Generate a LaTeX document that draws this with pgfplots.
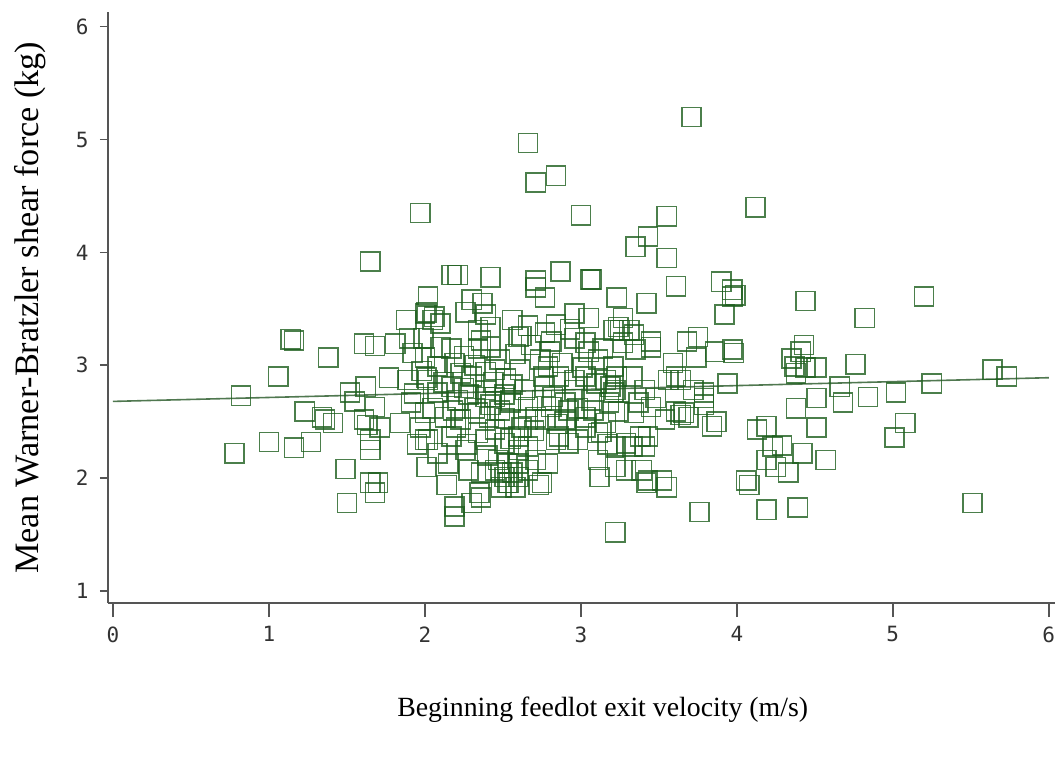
\documentclass[border=0pt]{standalone}
\usepackage{fontspec}
\setmainfont{Liberation Serif}
\newfontfamily\tickfont{DejaVu Sans Mono}
\usepackage{pgfplots}
\pgfplotsset{compat=1.18}
\definecolor{mk}{RGB}{30,95,30}
\definecolor{ax}{RGB}{85,85,85}
\definecolor{rl}{RGB}{80,120,80}
\definecolor{tl}{RGB}{50,50,50}

\pgfplotstableread{
x y
0.78 2.22
0.82 2.73
1.00 2.32
1.06 2.90
1.14 3.23
1.16 3.22
1.16 2.27
1.23 2.59
1.27 2.32
1.34 2.54
1.36 2.52
1.38 3.07
1.41 2.49
1.50 1.78
1.49 2.08
1.52 2.76
1.55 2.68
1.61 2.52
1.63 2.47
1.61 3.19
1.62 2.81
1.65 3.92
1.65 2.34
1.65 2.25
1.65 1.96
1.68 1.87
1.70 1.96
1.68 2.63
1.68 3.17
1.71 2.45
1.77 2.89
1.81 3.19
1.84 2.49
1.88 3.40
1.89 2.87
1.90 3.24
1.91 2.67
1.92 3.11
1.97 2.45
1.97 4.35
2.01 3.47
2.01 2.89
2.01 2.10
2.02 3.61
2.02 2.34
2.05 3.40
2.30 3.58
2.26 3.47
2.39 3.45
2.71 3.69
2.77 3.60
2.84 3.36
2.96 3.46
3.05 3.42
3.07 3.76
3.23 3.60
3.24 3.34
2.00 3.46
2.06 3.43
2.10 3.37
1.99 3.24
2.10 3.16
2.17 3.15
2.34 3.31
2.36 3.22
2.34 3.15
2.42 3.16
2.60 3.25
2.62 3.26
2.77 3.29
2.81 3.21
2.80 3.12
2.96 3.24
3.05 3.12
3.11 3.05
3.21 3.31
2.00 3.07
2.08 2.99
2.19 3.02
2.23 2.93
2.30 2.90
2.39 2.94
2.45 2.96
2.61 2.96
2.76 2.90
2.77 2.81
2.86 2.90
2.96 2.87
3.03 2.90
3.16 2.87
3.22 2.78
2.02 2.87
2.08 2.76
2.17 2.81
2.21 2.69
2.28 2.74
2.39 2.78
2.45 2.72
2.51 2.74
2.55 2.67
2.66 2.63
2.75 2.69
2.81 2.63
2.90 2.67
2.96 2.78
3.07 2.69
3.18 2.67
2.00 2.58
2.13 2.54
2.23 2.52
2.34 2.58
2.41 2.54
2.51 2.53
2.66 2.52
2.77 2.52
2.90 2.52
3.03 2.54
3.16 2.49
2.14 1.94
2.19 1.75
2.19 1.66
2.35 1.87
2.30 1.78
2.28 2.07
2.15 2.13
2.49 1.92
2.53 1.96
2.49 2.05
2.60 2.01
2.73 1.94
2.66 2.07
2.79 2.13
2.71 2.16
2.53 2.13
2.47 2.16
2.45 2.07
2.26 2.25
2.08 2.22
2.00 2.34
2.17 2.37
2.34 2.40
2.45 2.43
2.51 2.31
2.60 2.37
2.60 2.25
2.66 2.28
2.86 2.37
2.92 2.31
2.98 2.34
3.11 2.40
3.11 2.16
3.12 2.01
2.39 2.34
3.03 2.45
2.66 4.97
2.71 4.62
2.84 4.68
3.00 4.33
3.35 4.05
3.43 4.14
2.17 3.80
2.21 3.80
2.42 3.78
2.71 3.75
2.87 3.83
3.06 3.76
3.71 5.20
4.12 4.40
3.55 4.32
3.55 3.95
3.61 3.70
3.90 3.74
3.97 3.67
5.20 3.61
4.82 3.42
4.76 3.01
4.84 2.72
5.02 2.76
5.25 2.84
5.64 2.96
5.73 2.90
5.08 2.49
5.01 2.36
5.51 1.78
3.97 3.61
3.99 3.62
3.92 3.45
3.42 3.55
4.44 3.57
3.27 3.42
3.25 3.31
3.31 3.31
3.34 3.27
3.27 3.20
3.35 3.14
3.45 3.21
3.45 3.16
3.68 3.21
3.75 3.25
3.74 3.07
3.86 3.12
3.97 3.14
3.98 3.11
4.35 3.06
4.43 3.18
4.41 3.12
4.37 2.99
4.44 2.98
4.51 2.98
4.38 2.93
3.59 3.02
3.61 2.90
3.64 2.87
3.56 2.87
3.94 2.84
3.79 2.76
3.79 2.71
3.79 2.65
3.69 2.54
3.66 2.58
3.64 2.56
3.87 2.50
3.84 2.46
4.66 2.81
4.68 2.67
4.51 2.71
4.38 2.62
4.51 2.45
4.13 2.43
4.19 2.46
4.23 2.28
4.29 2.29
4.42 2.22
4.57 2.16
4.19 2.16
4.25 2.10
4.33 2.05
4.06 1.98
4.08 1.94
3.76 1.70
4.19 1.72
4.39 1.74
3.22 1.52
3.52 1.98
3.55 1.92
3.42 1.96
3.29 2.07
3.39 2.07
3.22 2.28
3.29 2.31
3.33 2.28
3.41 2.28
3.38 2.37
3.43 2.37
3.61 2.59
3.45 2.63
3.37 2.67
3.34 2.58
3.54 2.52
3.24 2.59
3.21 2.76
3.23 2.90
3.33 2.90
3.41 2.78
3.48 2.71
3.21 2.99
3.72 2.78
2.37 3.55
2.42 3.34
3.03 3.20
2.79 2.99
3.19 2.81
3.13 2.41
3.22 2.10
3.43 1.98
2.51 2.01
2.75 1.96
2.60 2.13
2.84 2.34
2.36 1.83
2.92 2.60
2.71 2.54
2.55 2.69
2.39 2.72
2.05 2.62
2.12 2.85
2.25 3.08
2.32 2.62
2.44 2.85
2.48 2.60
2.56 2.83
2.58 3.10
2.64 2.78
2.68 3.18
2.70 2.42
2.74 3.05
2.82 2.72
2.85 2.48
2.88 3.02
2.93 3.32
2.98 2.62
3.01 2.98
3.08 2.60
3.10 2.84
3.14 3.15
3.17 2.30
2.20 2.45
2.27 2.30
2.36 2.05
2.40 2.20
2.55 2.35
2.62 2.45
2.42 2.65
2.52 2.88
2.18 2.60
2.25 2.80
2.32 3.00
2.48 3.05
2.56 3.40
2.66 3.35
1.95 2.30
1.93 2.75
1.98 2.95
2.54 1.96
2.56 2.05
2.58 1.92
}\pts

\begin{document}
\begin{tikzpicture}
\begin{axis}[
  at={(0,0)}, anchor=south west,
  scale only axis, width=473.5pt, height=295.5pt,
  xmin=-0.032, xmax=6.04, ymin=0.894, ymax=6.13,
  axis x line*=bottom, axis y line*=left,
  axis line style={ax, line width=1pt},
  xtick={0,1,2,3,4,5,6}, ytick={1,2,3,4,5,6},
  tick align=outside,
  x tick style={ax, line width=0.8pt, /pgfplots/major tick length=7pt},
  y tick style={ax, line width=0.8pt, /pgfplots/major tick length=4pt},
  minor tick num=0,
  /pgf/number format/assume math mode=true,
  tick label style={font=\tickfont\fontsize{10.5}{12}\selectfont, text=tl},
  xticklabel style={yshift=-4pt},
  yticklabel style={xshift=-2pt},
  clip=false,
]
\addplot[rl, line width=0.8pt, no marks] coordinates {(0,2.68) (6,2.89)};
\addplot[only marks, mark=square, mark size=4.8pt,
  mark options={draw=mk, draw opacity=0.8, line width=0.75pt, fill=none}] table {\pts};
\node[rotate=90, font=\fontsize{17.1}{20}\selectfont] at (axis cs:-0.532,3.51) {Mean Warner-Bratzler shear force (kg)};
\node[font=\fontsize{13.9}{16}\selectfont] at (axis cs:3.14,-0.055) {Beginning feedlot exit velocity (m/s)};
\end{axis}
\pgfresetboundingbox
\useasboundingbox (-54pt,-78.5pt) rectangle (476pt,301.5pt);
\end{tikzpicture}
\end{document}
